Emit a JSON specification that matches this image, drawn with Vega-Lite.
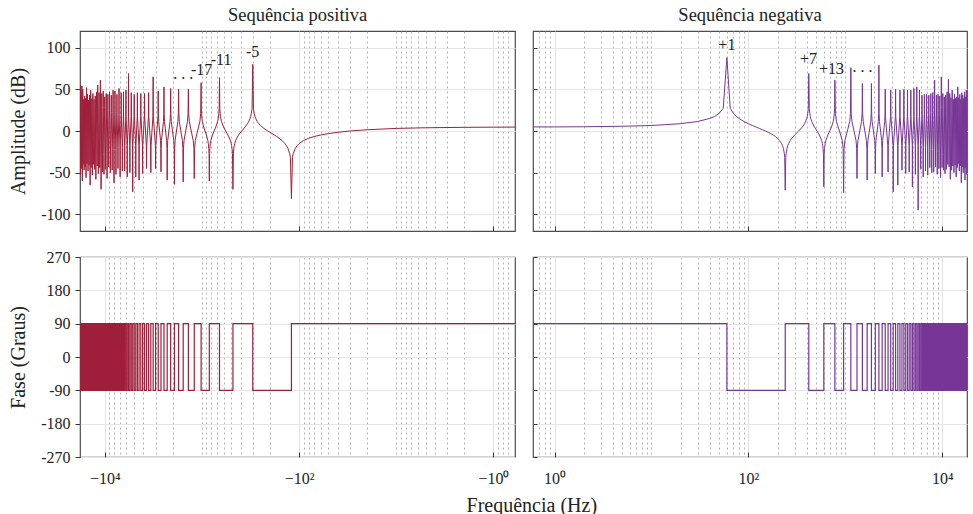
{
"$schema":"https://vega.github.io/schema/vega-lite/v6.json",
"background":"white",
"padding":{"left":8,"top":4,"right":5,"bottom":1},
"config":{
 "font":"Liberation Serif",
 "view":{"stroke":"#4d4d4d","strokeWidth":1.2},
 "axis":{"labelFont":"Liberation Serif","labelFontSize":16,"labelColor":"#222","titleFont":"Liberation Serif","titleFontSize":20,"titleFontWeight":"normal","titleColor":"#222","domain":false,"tickColor":"#333"},
 "title":{"font":"Liberation Serif","fontSize":18.5,"fontWeight":"normal","color":"#222"},
 "text":{"font":"Liberation Serif","fontSize":16,"color":"#222"}
},
"datasets":{
"ampPos":[
{"f":0.6,"a":4.7},{"f":1,"a":4.6},{"f":2,"a":4.4},{"f":5,"a":3.9},{"f":10,"a":3.1},{"f":20,"a":1.5},{"f":30,"a":0},{"f":40,"a":-1.5},{"f":50,"a":-3.1},{"f":60,"a":-4.8},{"f":70,"a":-6.6},{"f":80,"a":-8.8},{"f":90,"a":-11.4},{"f":100,"a":-15.1},{"f":105,"a":-17.6},{"f":110,"a":-21.2},{"f":115,"a":-27.2},{"f":117,"a":-31.6},{"f":120,"a":-81},{"f":123,"a":-31.6},{"f":125,"a":-27.2},{"f":130,"a":-21.2},{"f":135,"a":-17.6},{"f":140,"a":-15.1},{"f":150,"a":-11.4},{"f":160,"a":-8.8},{"f":170,"a":-6.6},{"f":180,"a":-4.8},{"f":190,"a":-3.1},{"f":200,"a":-1.5},{"f":210,"a":0},{"f":220,"a":1.5},{"f":230,"a":3.1},{"f":240,"a":4.8},{"f":250,"a":6.6},{"f":260,"a":8.8},{"f":270,"a":11.4},{"f":280,"a":15.1},{"f":285,"a":17.6},{"f":290,"a":21.2},{"f":295,"a":27.2},{"f":300,"a":80},{"f":305,"a":27.2},{"f":310,"a":21.2},{"f":315,"a":17.6},{"f":320,"a":15.1},{"f":330,"a":11.4},{"f":340,"a":8.8},{"f":360,"a":4.8},{"f":390,"a":0},{"f":420,"a":-4.8},{"f":440,"a":-8.8},{"f":450,"a":-11.4},{"f":460,"a":-15.1},{"f":465,"a":-17.6},{"f":470,"a":-21.2},{"f":475,"a":-27.2},{"f":480,"a":-70},{"f":485,"a":-27.2},{"f":490,"a":-21.2},{"f":495,"a":-17.6},{"f":500,"a":-15.1},{"f":510,"a":-11.4},{"f":540,"a":-4.8},{"f":570,"a":0},{"f":600,"a":4.8},{"f":630,"a":11.4},{"f":640,"a":15.1},{"f":645,"a":17.6},{"f":650,"a":21.2},{"f":655,"a":27.2},{"f":660,"a":64},{"f":665,"a":27.2},{"f":670,"a":21.2},{"f":680,"a":15.1},{"f":690,"a":11.4},{"f":720,"a":4.8},{"f":750,"a":0},{"f":780,"a":-4.8},{"f":810,"a":-11.4},{"f":820,"a":-15.1},{"f":830,"a":-21.2},{"f":835,"a":-27.2},{"f":840,"a":-60},{"f":845,"a":-27.2},{"f":850,"a":-21.2},{"f":860,"a":-15.1},{"f":870,"a":-11.4},{"f":900,"a":-4.8},{"f":930,"a":0},{"f":960,"a":4.8},{"f":990,"a":11.4},{"f":1000,"a":15.1},{"f":1010,"a":21.2},{"f":1015,"a":27.2},{"f":1020,"a":58},
{"f":1030,"a":21.2},{"f":1050,"a":11.4},{"f":1110,"a":0},{"f":1170,"a":-11.4},{"f":1190,"a":-21.2},{"f":1200,"a":-57},{"f":1210,"a":-21.2},{"f":1230,"a":-11.4},{"f":1290,"a":0},{"f":1350,"a":11.4},{"f":1370,"a":21.2},{"f":1380,"a":50},
{"f":1390,"a":21.2},{"f":1410,"a":11.4},{"f":1470,"a":0},{"f":1530,"a":-11.4},{"f":1550,"a":-21.2},{"f":1560,"a":-61},{"f":1570,"a":-21.2},{"f":1590,"a":-11.4},{"f":1650,"a":0},{"f":1710,"a":11.4},{"f":1730,"a":21.2},{"f":1740,"a":50},
{"f":1750,"a":21.2},{"f":1770,"a":11.4},{"f":1830,"a":0},{"f":1890,"a":-11.4},{"f":1910,"a":-21.2},{"f":1920,"a":-64},{"f":1930,"a":-21.2},{"f":1950,"a":-11.4},{"f":2010,"a":0},{"f":2070,"a":11.4},{"f":2090,"a":21.2},{"f":2100,"a":51},
{"f":2110,"a":21.2},{"f":2130,"a":11.4},{"f":2190,"a":0},{"f":2250,"a":-11.4},{"f":2270,"a":-21.2},{"f":2280,"a":-59},{"f":2290,"a":-21.2},{"f":2310,"a":-11.4},{"f":2370,"a":0},{"f":2430,"a":11.4},{"f":2450,"a":21.2},{"f":2460,"a":53},
{"f":2470,"a":21.2},{"f":2490,"a":11.4},{"f":2550,"a":0},{"f":2610,"a":-11.4},{"f":2630,"a":-21.2},{"f":2640,"a":-49},{"f":2650,"a":-21.2},{"f":2670,"a":-11.4},{"f":2730,"a":0},{"f":2790,"a":11.4},{"f":2810,"a":21.2},{"f":2820,"a":48},
{"f":2835,"a":17.6},{"f":2985,"a":-17.6},{"f":3000,"a":-45},{"f":3015,"a":-17.6},{"f":3165,"a":17.6},{"f":3180,"a":65},
{"f":3195,"a":17.6},{"f":3345,"a":-17.6},{"f":3360,"a":-50},{"f":3375,"a":-17.6},{"f":3525,"a":17.6},{"f":3540,"a":46},
{"f":3555,"a":17.6},{"f":3705,"a":-17.6},{"f":3720,"a":-45},{"f":3735,"a":-17.6},{"f":3885,"a":17.6},{"f":3900,"a":45},
{"f":3915,"a":17.6},{"f":4065,"a":-17.6},{"f":4080,"a":-51},{"f":4095,"a":-17.6},{"f":4245,"a":17.6},{"f":4260,"a":45},
{"f":4275,"a":17.6},{"f":4425,"a":-17.6},{"f":4440,"a":-59},{"f":4455,"a":-17.6},{"f":4605,"a":17.6},{"f":4620,"a":46},
{"f":4635,"a":17.6},{"f":4785,"a":-17.6},{"f":4800,"a":-55},{"f":4815,"a":-17.6},{"f":4965,"a":17.6},{"f":4980,"a":44},
{"f":4995,"a":17.6},{"f":5145,"a":-17.6},{"f":5160,"a":-73},{"f":5175,"a":-17.6},{"f":5325,"a":17.6},{"f":5340,"a":46},
{"f":5355,"a":17.6},{"f":5505,"a":-17.6},{"f":5520,"a":-50},{"f":5535,"a":-17.6},{"f":5685,"a":17.6},{"f":5700,"a":69},
{"f":5715,"a":17.6},{"f":5865,"a":-17.6},{"f":5880,"a":-55},{"f":5895,"a":-17.6},{"f":6045,"a":17.6},{"f":6060,"a":49},
{"f":6075,"a":17.6},{"f":6225,"a":-17.6},{"f":6240,"a":-48},{"f":6255,"a":-17.6},{"f":6405,"a":17.6},{"f":6420,"a":47},
{"f":6435,"a":20},{"f":6585,"a":-20},{"f":6600,"a":-48},{"f":6615,"a":-20},{"f":6765,"a":20},{"f":6780,"a":46},
{"f":6795,"a":20},{"f":6945,"a":-20},{"f":6960,"a":-55},{"f":6975,"a":-20},{"f":7125,"a":20},{"f":7140,"a":51},
{"f":7155,"a":20},{"f":7305,"a":-20},{"f":7320,"a":-45},{"f":7335,"a":-20},{"f":7485,"a":20},{"f":7500,"a":44},
{"f":7515,"a":22},{"f":7665,"a":-22},{"f":7680,"a":-52},{"f":7695,"a":-22},{"f":7845,"a":22},{"f":7860,"a":48},
{"f":7875,"a":22},{"f":8025,"a":-22},{"f":8040,"a":-62},{"f":8055,"a":-22},{"f":8205,"a":22},{"f":8220,"a":49},
{"f":8235,"a":22},{"f":8385,"a":-22},{"f":8400,"a":-47},{"f":8415,"a":-22},{"f":8565,"a":22},{"f":8580,"a":43},
{"f":8595,"a":25},{"f":8745,"a":-25},{"f":8760,"a":-50},{"f":8775,"a":-25},{"f":8925,"a":25},{"f":8940,"a":47},
{"f":8955,"a":25},{"f":9105,"a":-25},{"f":9120,"a":-43},{"f":9135,"a":-25},{"f":9285,"a":25},{"f":9300,"a":44},
{"f":9315,"a":25},{"f":9465,"a":-25},{"f":9480,"a":-57},{"f":9495,"a":-25},{"f":9645,"a":25},{"f":9660,"a":45},
{"f":9675,"a":28},{"f":9825,"a":-28},{"f":9840,"a":-46},{"f":9855,"a":-28},{"f":10005,"a":28},{"f":10020,"a":41},
{"f":10035,"a":28},{"f":10185,"a":-28},{"f":10200,"a":-52},{"f":10215,"a":-28},{"f":10365,"a":28},{"f":10380,"a":48},
{"f":10395,"a":28},{"f":10545,"a":-28},{"f":10560,"a":-49},{"f":10575,"a":-28},{"f":10725,"a":28},{"f":10740,"a":45},
{"f":10920,"a":-70},{"f":11100,"a":61},{"f":11280,"a":-44},{"f":11460,"a":46},{"f":11640,"a":-51},{"f":11820,"a":55},{"f":12000,"a":-42},{"f":12180,"a":47},{"f":12360,"a":-58},{"f":12540,"a":42},{"f":12720,"a":-46},{"f":12900,"a":38},{"f":13080,"a":-40},{"f":13260,"a":45},{"f":13440,"a":-53},{"f":13620,"a":39},{"f":13800,"a":-44},{"f":13980,"a":49},{"f":14160,"a":-65},{"f":14340,"a":43},{"f":14520,"a":-41},{"f":14700,"a":37},{"f":14880,"a":-48},{"f":15060,"a":44},{"f":15240,"a":-39},{"f":15420,"a":52},{"f":15600,"a":-56},{"f":15780,"a":39},{"f":15960,"a":-43},{"f":16140,"a":42},{"f":16320,"a":-47},{"f":16500,"a":38},{"f":16680,"a":-40},{"f":16860,"a":50},{"f":17040,"a":-60},{"f":17220,"a":54},{"f":17400,"a":-45},{"f":17580,"a":43},{"f":17760,"a":-52},{"f":17940,"a":55},{"f":18000,"a":-20}
],
"ampNeg":[
{"f":0.6,"a":4.9},{"f":1,"a":4.9},{"f":2,"a":5.1},{"f":5,"a":5.7},{"f":10,"a":6.6},{"f":20,"a":8.8},{"f":30,"a":11.4},{"f":40,"a":15.1},{"f":45,"a":17.6},{"f":50,"a":21.2},{"f":55,"a":27.2},{"f":60,"a":88},{"f":65,"a":27.2},{"f":70,"a":21.2},{"f":75,"a":17.6},{"f":80,"a":15.1},{"f":90,"a":11.4},{"f":100,"a":8.8},{"f":110,"a":6.6},{"f":120,"a":4.8},{"f":130,"a":3.1},{"f":140,"a":1.5},{"f":150,"a":0},{"f":160,"a":-1.5},{"f":170,"a":-3.1},{"f":180,"a":-4.8},{"f":190,"a":-6.6},{"f":200,"a":-8.8},{"f":210,"a":-11.4},{"f":220,"a":-15.1},{"f":225,"a":-17.6},{"f":230,"a":-21.2},{"f":235,"a":-27.2},{"f":237,"a":-31.6},{"f":240,"a":-71},{"f":243,"a":-31.6},{"f":245,"a":-27.2},{"f":250,"a":-21.2},{"f":255,"a":-17.6},{"f":260,"a":-15.1},{"f":270,"a":-11.4},{"f":280,"a":-8.8},{"f":300,"a":-4.8},{"f":330,"a":0},{"f":360,"a":4.8},{"f":380,"a":8.8},{"f":390,"a":11.4},{"f":400,"a":15.1},{"f":405,"a":17.6},{"f":410,"a":21.2},{"f":415,"a":27.2},{"f":420,"a":69},{"f":425,"a":27.2},{"f":430,"a":21.2},{"f":435,"a":17.6},{"f":440,"a":15.1},{"f":450,"a":11.4},{"f":480,"a":4.8},{"f":510,"a":0},{"f":540,"a":-4.8},{"f":570,"a":-11.4},{"f":580,"a":-15.1},{"f":585,"a":-17.6},{"f":590,"a":-21.2},{"f":595,"a":-27.2},{"f":600,"a":-67},{"f":605,"a":-27.2},{"f":610,"a":-21.2},{"f":620,"a":-15.1},{"f":630,"a":-11.4},{"f":660,"a":-4.8},{"f":690,"a":0},{"f":720,"a":4.8},{"f":750,"a":11.4},{"f":760,"a":15.1},{"f":770,"a":21.2},{"f":775,"a":27.2},{"f":780,"a":61},
{"f":790,"a":21.2},{"f":810,"a":11.4},{"f":870,"a":0},{"f":930,"a":-11.4},{"f":950,"a":-21.2},{"f":960,"a":-74},{"f":970,"a":-21.2},{"f":990,"a":-11.4},{"f":1050,"a":0},{"f":1110,"a":11.4},{"f":1130,"a":21.2},{"f":1140,"a":76},
{"f":1150,"a":21.2},{"f":1170,"a":11.4},{"f":1230,"a":0},{"f":1290,"a":-11.4},{"f":1310,"a":-21.2},{"f":1320,"a":-57},{"f":1330,"a":-21.2},{"f":1350,"a":-11.4},{"f":1410,"a":0},{"f":1470,"a":11.4},{"f":1490,"a":21.2},{"f":1500,"a":57},
{"f":1510,"a":21.2},{"f":1530,"a":11.4},{"f":1590,"a":0},{"f":1650,"a":-11.4},{"f":1670,"a":-21.2},{"f":1680,"a":-59},{"f":1690,"a":-21.2},{"f":1710,"a":-11.4},{"f":1770,"a":0},{"f":1830,"a":11.4},{"f":1850,"a":21.2},{"f":1860,"a":57},
{"f":1870,"a":21.2},{"f":1890,"a":11.4},{"f":1950,"a":0},{"f":2010,"a":-11.4},{"f":2030,"a":-21.2},{"f":2040,"a":-51},{"f":2050,"a":-21.2},{"f":2070,"a":-11.4},{"f":2130,"a":0},{"f":2190,"a":11.4},{"f":2210,"a":21.2},{"f":2220,"a":79},
{"f":2230,"a":21.2},{"f":2250,"a":11.4},{"f":2310,"a":0},{"f":2370,"a":-11.4},{"f":2390,"a":-21.2},{"f":2400,"a":-55},{"f":2410,"a":-21.2},{"f":2430,"a":-11.4},{"f":2490,"a":0},{"f":2550,"a":11.4},{"f":2570,"a":21.2},{"f":2580,"a":50},
{"f":2595,"a":17.6},{"f":2745,"a":-17.6},{"f":2760,"a":-49},{"f":2775,"a":-17.6},{"f":2925,"a":17.6},{"f":2940,"a":49},
{"f":2955,"a":17.6},{"f":3105,"a":-17.6},{"f":3120,"a":-73},{"f":3135,"a":-17.6},{"f":3285,"a":17.6},{"f":3300,"a":50},
{"f":3315,"a":17.6},{"f":3465,"a":-17.6},{"f":3480,"a":-65},{"f":3495,"a":-17.6},{"f":3645,"a":17.6},{"f":3660,"a":49},
{"f":3675,"a":17.6},{"f":3825,"a":-17.6},{"f":3840,"a":-47},{"f":3855,"a":-17.6},{"f":4005,"a":17.6},{"f":4020,"a":50},
{"f":4035,"a":17.6},{"f":4185,"a":-17.6},{"f":4200,"a":-51},{"f":4215,"a":-17.6},{"f":4365,"a":17.6},{"f":4380,"a":49},
{"f":4395,"a":17.6},{"f":4545,"a":-17.6},{"f":4560,"a":-49},{"f":4575,"a":-17.6},{"f":4725,"a":17.6},{"f":4740,"a":49},
{"f":4755,"a":17.6},{"f":4905,"a":-17.6},{"f":4920,"a":-67},{"f":4935,"a":-17.6},{"f":5085,"a":17.6},{"f":5100,"a":51},
{"f":5115,"a":17.6},{"f":5265,"a":-17.6},{"f":5280,"a":-52},{"f":5295,"a":-17.6},{"f":5445,"a":17.6},{"f":5460,"a":53},
{"f":5475,"a":17.6},{"f":5625,"a":-17.6},{"f":5640,"a":-95},{"f":5655,"a":-17.6},{"f":5805,"a":17.6},{"f":5820,"a":49},
{"f":5835,"a":17.6},{"f":5985,"a":-17.6},{"f":6000,"a":-46},{"f":6015,"a":-17.6},{"f":6165,"a":17.6},{"f":6180,"a":43},
{"f":6195,"a":20},{"f":6345,"a":-20},{"f":6360,"a":-55},{"f":6375,"a":-20},{"f":6525,"a":20},{"f":6540,"a":44},
{"f":6555,"a":20},{"f":6705,"a":-20},{"f":6720,"a":-48},{"f":6735,"a":-20},{"f":6885,"a":20},{"f":6900,"a":44},
{"f":6915,"a":20},{"f":7065,"a":-20},{"f":7080,"a":-53},{"f":7095,"a":-20},{"f":7245,"a":20},{"f":7260,"a":43},
{"f":7275,"a":22},{"f":7425,"a":-22},{"f":7440,"a":-44},{"f":7455,"a":-22},{"f":7605,"a":22},{"f":7620,"a":45},
{"f":7635,"a":22},{"f":7785,"a":-22},{"f":7800,"a":-50},{"f":7815,"a":-22},{"f":7965,"a":22},{"f":7980,"a":46},
{"f":7995,"a":22},{"f":8145,"a":-22},{"f":8160,"a":-49},{"f":8175,"a":-22},{"f":8325,"a":22},{"f":8340,"a":61},
{"f":8355,"a":25},{"f":8505,"a":-25},{"f":8520,"a":-43},{"f":8535,"a":-25},{"f":8685,"a":25},{"f":8700,"a":43},
{"f":8715,"a":25},{"f":8865,"a":-25},{"f":8880,"a":-52},{"f":8895,"a":-25},{"f":9045,"a":25},{"f":9060,"a":44},
{"f":9075,"a":25},{"f":9225,"a":-25},{"f":9240,"a":-45},{"f":9255,"a":-25},{"f":9405,"a":25},{"f":9420,"a":42},
{"f":9435,"a":28},{"f":9585,"a":-28},{"f":9600,"a":-56},{"f":9615,"a":-28},{"f":9765,"a":28},{"f":9780,"a":65},
{"f":9795,"a":28},{"f":9945,"a":-28},{"f":9960,"a":-44},{"f":9975,"a":-28},{"f":10125,"a":28},{"f":10140,"a":45},
{"f":10155,"a":28},{"f":10305,"a":-28},{"f":10320,"a":-47},{"f":10335,"a":-28},{"f":10485,"a":28},{"f":10500,"a":41},
{"f":10680,"a":-51},{"f":10860,"a":43},{"f":11040,"a":-46},{"f":11220,"a":47},{"f":11400,"a":-40},{"f":11580,"a":62},{"f":11760,"a":-43},{"f":11940,"a":45},{"f":12120,"a":-58},{"f":12300,"a":40},{"f":12480,"a":-47},{"f":12660,"a":49},{"f":12840,"a":-42},{"f":13020,"a":38},{"f":13200,"a":-50},{"f":13380,"a":44},{"f":13560,"a":-41},{"f":13740,"a":39},{"f":13920,"a":-55},{"f":14100,"a":41},{"f":14280,"a":-44},{"f":14460,"a":53},{"f":14640,"a":-39},{"f":14820,"a":40},{"f":15000,"a":-48},{"f":15180,"a":44},{"f":15360,"a":-42},{"f":15540,"a":38},{"f":15720,"a":-62},{"f":15900,"a":46},{"f":16080,"a":-43},{"f":16260,"a":43},{"f":16440,"a":-50},{"f":16620,"a":39},{"f":16800,"a":-45},{"f":16980,"a":47},{"f":17160,"a":-59},{"f":17340,"a":41},{"f":17520,"a":-44},{"f":17700,"a":49},{"f":17880,"a":-52},{"f":18000,"a":10}
],
"phPos":[
{"f":0.6,"p":90},{"f":120,"p":-90},{"f":300,"p":90},{"f":480,"p":-90},{"f":660,"p":90},{"f":840,"p":-90},{"f":1020,"p":90},{"f":1200,"p":-90},{"f":1380,"p":90},{"f":1560,"p":-90},{"f":1740,"p":90},{"f":1920,"p":-90},{"f":2100,"p":90},{"f":2280,"p":-90},{"f":2460,"p":90},{"f":2640,"p":-90},{"f":2820,"p":90},{"f":3000,"p":-90},{"f":3180,"p":90},{"f":3360,"p":-90},{"f":3540,"p":90},{"f":3720,"p":-90},{"f":3900,"p":90},{"f":4080,"p":-90},{"f":4260,"p":90},{"f":4440,"p":-90},{"f":4620,"p":90},{"f":4800,"p":-90},{"f":4980,"p":90},{"f":5160,"p":-90},{"f":5340,"p":90},{"f":5520,"p":-90},{"f":5700,"p":90},{"f":5880,"p":-90},{"f":6060,"p":90},{"f":6240,"p":-90},{"f":6420,"p":90},{"f":6600,"p":-90},{"f":6780,"p":90},{"f":6960,"p":-90},{"f":7140,"p":90},{"f":7320,"p":-90},{"f":7500,"p":90},{"f":7680,"p":-90},{"f":7860,"p":90},{"f":8040,"p":-90},{"f":8220,"p":90},{"f":8400,"p":-90},{"f":8580,"p":90},{"f":8760,"p":-90},{"f":8940,"p":90},{"f":9120,"p":-90},{"f":9300,"p":90},{"f":9480,"p":-90},{"f":9660,"p":90},{"f":9840,"p":-90},{"f":10020,"p":90},{"f":10200,"p":-90},{"f":10380,"p":90},{"f":10560,"p":-90},{"f":10740,"p":90},{"f":10920,"p":-90},{"f":11100,"p":90},{"f":11280,"p":-90},{"f":11460,"p":90},{"f":11640,"p":-90},{"f":11820,"p":90},{"f":12000,"p":-90},{"f":12180,"p":90},{"f":12360,"p":-90},{"f":12540,"p":90},{"f":12720,"p":-90},{"f":12900,"p":90},{"f":13080,"p":-90},{"f":13260,"p":90},{"f":13440,"p":-90},{"f":13620,"p":90},{"f":13800,"p":-90},{"f":13980,"p":90},{"f":14160,"p":-90},{"f":14340,"p":90},{"f":14520,"p":-90},{"f":14700,"p":90},{"f":14880,"p":-90},{"f":15060,"p":90},{"f":15240,"p":-90},{"f":15420,"p":90},{"f":15600,"p":-90},{"f":15780,"p":90},{"f":15960,"p":-90},{"f":16140,"p":90},{"f":16320,"p":-90},{"f":16500,"p":90},{"f":16680,"p":-90},{"f":16860,"p":90},{"f":17040,"p":-90},{"f":17220,"p":90},{"f":17400,"p":-90},{"f":17580,"p":90},{"f":17760,"p":-90},{"f":17940,"p":90},{"f":18000,"p":90}
],
"phNeg":[
{"f":0.6,"p":90},{"f":60,"p":-90},{"f":240,"p":90},{"f":420,"p":-90},{"f":600,"p":90},{"f":780,"p":-90},{"f":960,"p":90},{"f":1140,"p":-90},{"f":1320,"p":90},{"f":1500,"p":-90},{"f":1680,"p":90},{"f":1860,"p":-90},{"f":2040,"p":90},{"f":2220,"p":-90},{"f":2400,"p":90},{"f":2580,"p":-90},{"f":2760,"p":90},{"f":2940,"p":-90},{"f":3120,"p":90},{"f":3300,"p":-90},{"f":3480,"p":90},{"f":3660,"p":-90},{"f":3840,"p":90},{"f":4020,"p":-90},{"f":4200,"p":90},{"f":4380,"p":-90},{"f":4560,"p":90},{"f":4740,"p":-90},{"f":4920,"p":90},{"f":5100,"p":-90},{"f":5280,"p":90},{"f":5460,"p":-90},{"f":5640,"p":90},{"f":5820,"p":-90},{"f":6000,"p":90},{"f":6180,"p":-90},{"f":6360,"p":90},{"f":6540,"p":-90},{"f":6720,"p":90},{"f":6900,"p":-90},{"f":7080,"p":90},{"f":7260,"p":-90},{"f":7440,"p":90},{"f":7620,"p":-90},{"f":7800,"p":90},{"f":7980,"p":-90},{"f":8160,"p":90},{"f":8340,"p":-90},{"f":8520,"p":90},{"f":8700,"p":-90},{"f":8880,"p":90},{"f":9060,"p":-90},{"f":9240,"p":90},{"f":9420,"p":-90},{"f":9600,"p":90},{"f":9780,"p":-90},{"f":9960,"p":90},{"f":10140,"p":-90},{"f":10320,"p":90},{"f":10500,"p":-90},{"f":10680,"p":90},{"f":10860,"p":-90},{"f":11040,"p":90},{"f":11220,"p":-90},{"f":11400,"p":90},{"f":11580,"p":-90},{"f":11760,"p":90},{"f":11940,"p":-90},{"f":12120,"p":90},{"f":12300,"p":-90},{"f":12480,"p":90},{"f":12660,"p":-90},{"f":12840,"p":90},{"f":13020,"p":-90},{"f":13200,"p":90},{"f":13380,"p":-90},{"f":13560,"p":90},{"f":13740,"p":-90},{"f":13920,"p":90},{"f":14100,"p":-90},{"f":14280,"p":90},{"f":14460,"p":-90},{"f":14640,"p":90},{"f":14820,"p":-90},{"f":15000,"p":90},{"f":15180,"p":-90},{"f":15360,"p":90},{"f":15540,"p":-90},{"f":15720,"p":90},{"f":15900,"p":-90},{"f":16080,"p":90},{"f":16260,"p":-90},{"f":16440,"p":90},{"f":16620,"p":-90},{"f":16800,"p":90},{"f":16980,"p":-90},{"f":17160,"p":90},{"f":17340,"p":-90},{"f":17520,"p":90},{"f":17700,"p":-90},{"f":17880,"p":90},{"f":18000,"p":90}
],
"annPos":[{"f":301,"a":89,"t":"-5"},{"f":636,"a":79,"t":"-11"},{"f":1010,"a":67,"t":"-17"},{"f":1560,"a":62,"t":". . ."}],
"annNeg":[{"f":60,"a":97,"t":"+1"},{"f":418,"a":81,"t":"+7"},{"f":722,"a":69,"t":"+13"},{"f":1508,"a":71,"t":". . ."}]
},
"title":{"text":"Frequência (Hz)","orient":"bottom","anchor":"middle","fontSize":20,"offset":9,"dx":44},
"columns":2,
"spacing":{"row":15,"column":15},
"concat":[
{
 "width":435,"height":200,
 "title":{"text":"Sequência positiva","offset":7},
 "encoding":{
  "x":{"field":"f","type":"quantitative","scale":{"type":"log","domain":[0.6,18000],"reverse":true,"nice":false},
   "axis":{"title":null,"labels":false,"values":[0.7,0.8,0.9,1,2,3,4,5,6,7,8,9,10,20,30,40,50,60,70,80,90,100,200,300,400,500,600,700,800,900,1000,2000,3000,4000,5000,6000,7000,8000,9000,10000],"tickSize":-5,"tickOpacity":{"condition":{"test":"datum.value==1||datum.value==100||datum.value==10000","value":1},"value":0},"grid":true,"gridColor":{"condition":{"test":"datum.value==1||datum.value==100||datum.value==10000","value":"#dcdcdc"},"value":"#a0a0a0"},"gridDash":{"condition":{"test":"datum.value==1||datum.value==100||datum.value==10000","value":[]},"value":[2,3]},"gridWidth":0.8}},
  "y":{"field":"a","type":"quantitative","scale":{"domain":[-120,120],"nice":false},
   "axis":{"title":"Amplitude (dB)","values":[-100,-50,0,50,100],"labelExpr":"datum.value+''","grid":true,"gridColor":"#e6e6e6","tickSize":5,"labelPadding":5,"titlePadding":12}}
 },
 "layer":[
  {"data":{"name":"ampPos"},"mark":{"type":"line","color":"#9f1f3a","strokeWidth":1,"clip":true}},
  {"data":{"name":"annPos"},"mark":{"type":"text","baseline":"alphabetic","align":"center"},"encoding":{"text":{"field":"t"}}}
 ]
},
{
 "width":434,"height":200,
 "title":{"text":"Sequência negativa","offset":7},
 "encoding":{
  "x":{"field":"f","type":"quantitative","scale":{"type":"log","domain":[0.6,18000],"nice":false},
   "axis":{"title":null,"labels":false,"values":[0.7,0.8,0.9,1,2,3,4,5,6,7,8,9,10,20,30,40,50,60,70,80,90,100,200,300,400,500,600,700,800,900,1000,2000,3000,4000,5000,6000,7000,8000,9000,10000],"tickSize":-5,"tickOpacity":{"condition":{"test":"datum.value==1||datum.value==100||datum.value==10000","value":1},"value":0},"grid":true,"gridColor":{"condition":{"test":"datum.value==1||datum.value==100||datum.value==10000","value":"#dcdcdc"},"value":"#a0a0a0"},"gridDash":{"condition":{"test":"datum.value==1||datum.value==100||datum.value==10000","value":[]},"value":[2,3]},"gridWidth":0.8}},
  "y":{"field":"a","type":"quantitative","scale":{"domain":[-120,120],"nice":false},
   "axis":{"title":null,"labels":false,"values":[-100,-50,0,50,100],"grid":true,"gridColor":"#e6e6e6","tickSize":-4}}
 },
 "layer":[
  {"data":{"name":"ampNeg"},"mark":{"type":"line","color":"#773695","strokeWidth":1,"clip":true}},
  {"data":{"name":"annNeg"},"mark":{"type":"text","baseline":"alphabetic","align":"center"},"encoding":{"text":{"field":"t"}}}
 ]
},
{
 "width":435,"height":200,
 "data":{"name":"phPos"},
 "mark":{"type":"line","color":"#9f1f3a","strokeWidth":1.2,"interpolate":"step-before","clip":true},
 "encoding":{
  "x":{"field":"f","type":"quantitative","scale":{"type":"log","domain":[0.6,18000],"reverse":true,"nice":false},
   "axis":{"title":null,"values":[0.7,0.8,0.9,1,2,3,4,5,6,7,8,9,10,20,30,40,50,60,70,80,90,100,200,300,400,500,600,700,800,900,1000,2000,3000,4000,5000,6000,7000,8000,9000,10000],"labelExpr":"datum.value==1?'−10⁰':datum.value==100?'−10²':datum.value==10000?'−10⁴':''","labelOverlap":false,"labelFlush":false,"labelPadding":18,"tickSize":-5,"tickOpacity":{"condition":{"test":"datum.value==1||datum.value==100||datum.value==10000","value":1},"value":0},"grid":true,"gridColor":{"condition":{"test":"datum.value==1||datum.value==100||datum.value==10000","value":"#dcdcdc"},"value":"#a0a0a0"},"gridDash":{"condition":{"test":"datum.value==1||datum.value==100||datum.value==10000","value":[]},"value":[2,3]},"gridWidth":0.8}},
  "y":{"field":"p","type":"quantitative","scale":{"domain":[-270,270],"nice":false},
   "axis":{"title":"Fase (Graus)","values":[-270,-180,-90,0,90,180,270],"labelExpr":"datum.value+''","grid":true,"gridColor":"#e6e6e6","tickSize":5,"labelPadding":5,"titlePadding":12}}
 }
},
{
 "width":434,"height":200,
 "data":{"name":"phNeg"},
 "mark":{"type":"line","color":"#773695","strokeWidth":1.2,"interpolate":"step-after","clip":true},
 "encoding":{
  "x":{"field":"f","type":"quantitative","scale":{"type":"log","domain":[0.6,18000],"nice":false},
   "axis":{"title":null,"values":[0.7,0.8,0.9,1,2,3,4,5,6,7,8,9,10,20,30,40,50,60,70,80,90,100,200,300,400,500,600,700,800,900,1000,2000,3000,4000,5000,6000,7000,8000,9000,10000],"labelExpr":"datum.value==1?'10⁰':datum.value==100?'10²':datum.value==10000?'10⁴':''","labelOverlap":false,"labelFlush":false,"labelPadding":18,"tickSize":-5,"tickOpacity":{"condition":{"test":"datum.value==1||datum.value==100||datum.value==10000","value":1},"value":0},"grid":true,"gridColor":{"condition":{"test":"datum.value==1||datum.value==100||datum.value==10000","value":"#dcdcdc"},"value":"#a0a0a0"},"gridDash":{"condition":{"test":"datum.value==1||datum.value==100||datum.value==10000","value":[]},"value":[2,3]},"gridWidth":0.8}},
  "y":{"field":"p","type":"quantitative","scale":{"domain":[-270,270],"nice":false},
   "axis":{"title":null,"labels":false,"values":[-270,-180,-90,0,90,180,270],"grid":true,"gridColor":"#e6e6e6","tickSize":-4}}
 }
}
]
}
